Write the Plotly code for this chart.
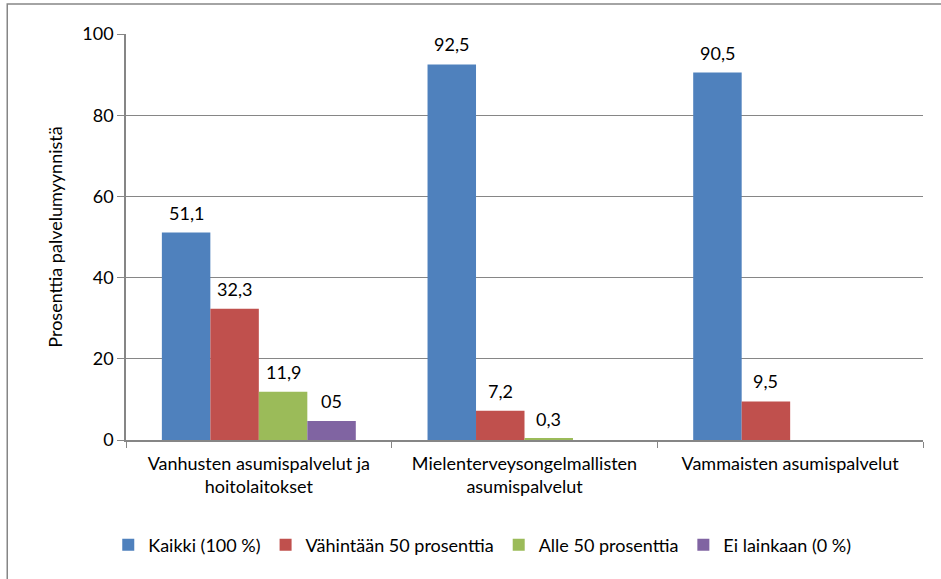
import plotly.graph_objects as go

categories = ["Vanhusten asumispalvelut ja<br>hoitolaitokset",
              "Mielenterveysongelmallisten<br>asumispalvelut",
              "Vammaisten asumispalvelut"]
series_names = ["Kaikki (100 %)", "Vähintään 50 prosenttia", "Alle 50 prosenttia", "Ei lainkaan (0 %)"]
kaikki = [51.1, 92.5, 90.5]
vahintaan = [32.3, 7.2, 9.5]
alle = [11.9, 0.3, 0.0]
ei_lainkaan = [4.7, 0.0, 0.0]
labels_kaikki = ["51,1", "92,5", "90,5"]
labels_vahintaan = ["32,3", "7,2", "9,5"]
labels_alle = ["11,9", "0,3", ""]
labels_ei = ["05", "", ""]
y_ticks = [0, 20, 40, 60, 80, 100]

colors = ["#4F81BD", "#C0504D", "#9BBB59", "#8064A2"]
FONT = "Lato, Calibri, Carlito, sans-serif"
FS = 18

W, H = 941, 579
ML, MR, MT, MB = 126, 18, 34, 139
BARGAP = 0.27
n_series = 4
plot_w = W - ML - MR
bar_px = plot_w / len(categories) * (1 - BARGAP) / n_series

all_vals = [kaikki, vahintaan, alle, ei_lainkaan]
all_labs = [labels_kaikki, labels_vahintaan, labels_alle, labels_ei]

fig = go.Figure()
for i, (name, vals, labs, col) in enumerate(zip(series_names, all_vals, all_labs, colors)):
    fig.add_trace(go.Bar(
        x=categories, y=vals, name=name,
        marker=dict(color=col, line=dict(width=0)),
    ))
    for cat, v, lab in zip(categories, vals, labs):
        if lab:
            fig.add_annotation(
                x=cat, y=v, xref="x", yref="y", text=lab, showarrow=False,
                xshift=(i - (n_series - 1) / 2) * bar_px, yshift=20,
                yanchor="middle", xanchor="center",
                font=dict(family=FONT, size=FS, color="#000000"),
            )

fig.update_layout(
    width=W, height=H,
    barmode="group", bargap=BARGAP, bargroupgap=0,
    plot_bgcolor="white", paper_bgcolor="white",
    margin=dict(l=ML, r=MR, t=MT, b=MB, autoexpand=False),
    font=dict(family=FONT, size=FS, color="#000000"),
    showlegend=True,
    legend=dict(orientation="h", x=0.447, xanchor="center", y=-0.259, yanchor="middle",
                font=dict(family=FONT, size=FS), itemwidth=30, tracegroupgap=0),
    shapes=[dict(type="rect", xref="paper", yref="paper",
                 x0=-0.149, x1=1.1, y0=-0.4, y1=1.074,
                 line=dict(color="#868686", width=1.5), layer="below")],
)
fig.update_xaxes(
    showline=True, linecolor="#868686", linewidth=2,
    ticks="outside", tickson="boundaries", ticklen=6, tickcolor="#868686",
    tickfont=dict(family=FONT, size=FS), ticklabelstandoff=6,
)
fig.update_yaxes(
    range=[0, 100], tickvals=y_ticks,
    showline=True, linecolor="#868686", linewidth=1.5,
    ticks="outside", ticklen=7, tickcolor="#868686",
    showgrid=True, gridcolor="#868686", gridwidth=1,
    zeroline=False,
    tickfont=dict(family=FONT, size=FS),
    title=dict(text="Prosenttia palvelumyynnistä", font=dict(family=FONT, size=FS), standoff=15),
)

fig.write_html("out.html", config={"displayModeBar": False},
               post_script="document.body.style.margin='0px';")
